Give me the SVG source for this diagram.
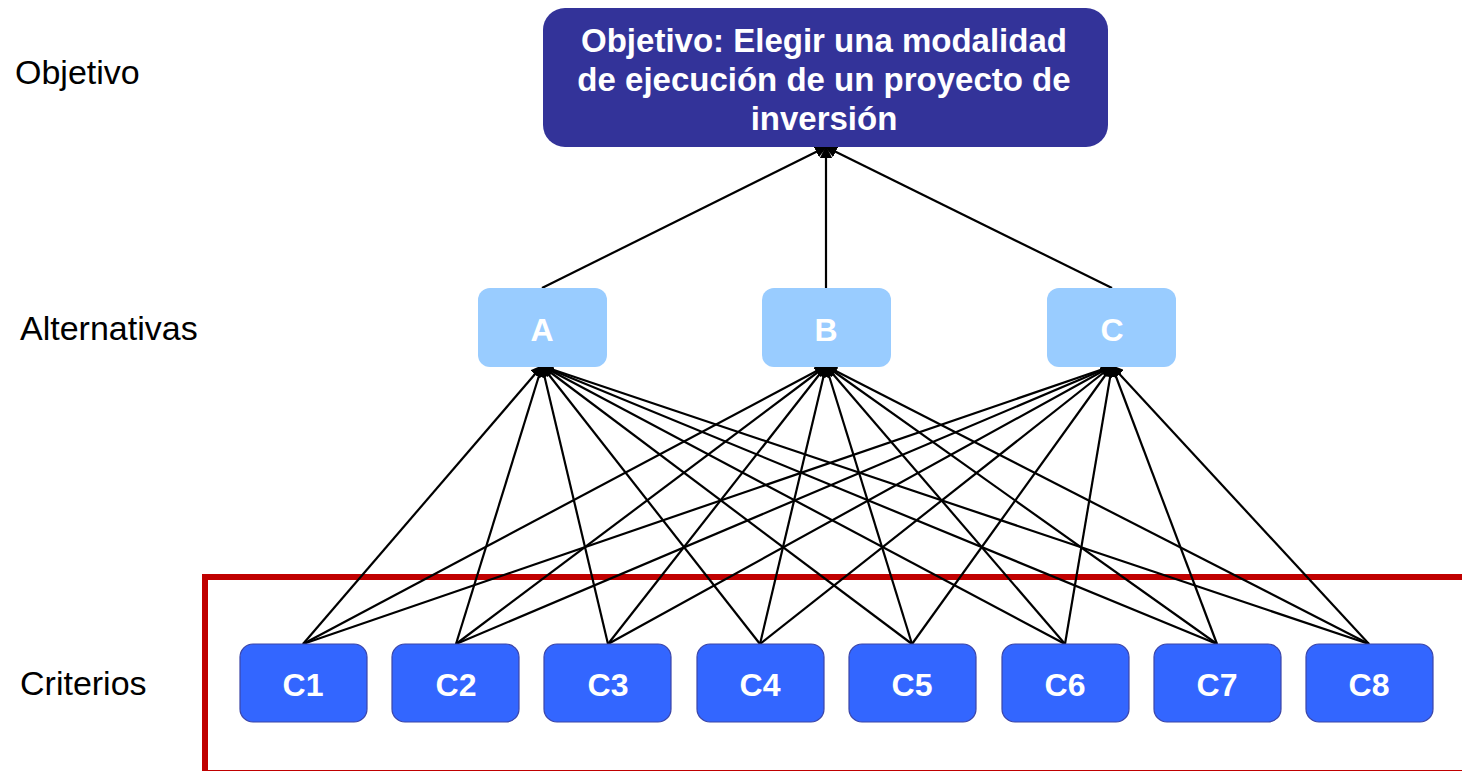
<svg xmlns="http://www.w3.org/2000/svg" width="1462" height="771" viewBox="0 0 1462 771">
<style>
.lbl{font-family:"Liberation Sans",Arial,sans-serif;font-size:34px;fill:#000}
.obj{fill:#333399}
.alt{fill:#99CCFF}
.cri{fill:#3366FF;stroke:#3B45A8;stroke-width:1.2}
.wt{font-family:"Liberation Sans",Arial,sans-serif;font-weight:bold;fill:#fff;text-anchor:middle}
.e{stroke:#000;stroke-width:2.2;fill:none;marker-end:url(#ah)}
</style>
<defs>
<marker id="ah" viewBox="0 0 10 10" refX="9" refY="5" markerWidth="5.5" markerHeight="5.5" markerUnits="strokeWidth" orient="auto">
<path d="M0,0 L10,5 L0,10 z" fill="#000"/>
</marker>
</defs>
<rect width="1462" height="771" fill="#fff"/>
<text class="lbl" x="15" y="84">Objetivo</text>
<text class="lbl" x="20" y="340">Alternativas</text>
<text class="lbl" x="20" y="695">Criterios</text>
<rect x="205" y="577" width="1300" height="196" fill="none" stroke="#C00000" stroke-width="6"/>
<g id="connectors">
<line class="e" x1="542" y1="288" x2="826" y2="147"/>
<line class="e" x1="826" y1="288" x2="826" y2="147"/>
<line class="e" x1="1112" y1="288" x2="826" y2="147"/>
<line class="e" x1="303" y1="644" x2="542" y2="366"/>
<line class="e" x1="303" y1="644" x2="826" y2="366"/>
<line class="e" x1="303" y1="644" x2="1112" y2="366"/>
<line class="e" x1="456" y1="644" x2="542" y2="366"/>
<line class="e" x1="456" y1="644" x2="826" y2="366"/>
<line class="e" x1="456" y1="644" x2="1112" y2="366"/>
<line class="e" x1="608" y1="644" x2="542" y2="366"/>
<line class="e" x1="608" y1="644" x2="826" y2="366"/>
<line class="e" x1="608" y1="644" x2="1112" y2="366"/>
<line class="e" x1="760" y1="644" x2="542" y2="366"/>
<line class="e" x1="760" y1="644" x2="826" y2="366"/>
<line class="e" x1="760" y1="644" x2="1112" y2="366"/>
<line class="e" x1="912" y1="644" x2="542" y2="366"/>
<line class="e" x1="912" y1="644" x2="826" y2="366"/>
<line class="e" x1="912" y1="644" x2="1112" y2="366"/>
<line class="e" x1="1065" y1="644" x2="542" y2="366"/>
<line class="e" x1="1065" y1="644" x2="826" y2="366"/>
<line class="e" x1="1065" y1="644" x2="1112" y2="366"/>
<line class="e" x1="1217" y1="644" x2="542" y2="366"/>
<line class="e" x1="1217" y1="644" x2="826" y2="366"/>
<line class="e" x1="1217" y1="644" x2="1112" y2="366"/>
<line class="e" x1="1369" y1="644" x2="542" y2="366"/>
<line class="e" x1="1369" y1="644" x2="826" y2="366"/>
<line class="e" x1="1369" y1="644" x2="1112" y2="366"/>
</g>
<g id="objetivo">
<rect class="obj" x="543" y="8" width="565" height="139" rx="22"/>
<text class="wt" x="824" y="52" font-size="33">Objetivo: Elegir una modalidad</text>
<text class="wt" x="824" y="91" font-size="33">de ejecución de un proyecto de</text>
<text class="wt" x="824" y="130" font-size="33">inversión</text>
</g>
<g id="alt-A"><rect class="alt" x="478" y="288" width="129" height="79" rx="12"/><text class="wt" x="542" y="341" font-size="32">A</text></g>
<g id="alt-B"><rect class="alt" x="762" y="288" width="129" height="79" rx="12"/><text class="wt" x="826" y="341" font-size="32">B</text></g>
<g id="alt-C"><rect class="alt" x="1047" y="288" width="129" height="79" rx="12"/><text class="wt" x="1112" y="341" font-size="32">C</text></g>
<g id="c1"><rect class="cri" x="240" y="644" width="127" height="78" rx="13"/><text class="wt" x="303" y="696" font-size="32">C1</text></g>
<g id="c2"><rect class="cri" x="392" y="644" width="127" height="78" rx="13"/><text class="wt" x="456" y="696" font-size="32">C2</text></g>
<g id="c3"><rect class="cri" x="544" y="644" width="127" height="78" rx="13"/><text class="wt" x="608" y="696" font-size="32">C3</text></g>
<g id="c4"><rect class="cri" x="697" y="644" width="127" height="78" rx="13"/><text class="wt" x="760" y="696" font-size="32">C4</text></g>
<g id="c5"><rect class="cri" x="849" y="644" width="127" height="78" rx="13"/><text class="wt" x="912" y="696" font-size="32">C5</text></g>
<g id="c6"><rect class="cri" x="1002" y="644" width="127" height="78" rx="13"/><text class="wt" x="1065" y="696" font-size="32">C6</text></g>
<g id="c7"><rect class="cri" x="1154" y="644" width="127" height="78" rx="13"/><text class="wt" x="1217" y="696" font-size="32">C7</text></g>
<g id="c8"><rect class="cri" x="1306" y="644" width="127" height="78" rx="13"/><text class="wt" x="1369" y="696" font-size="32">C8</text></g>
</svg>
